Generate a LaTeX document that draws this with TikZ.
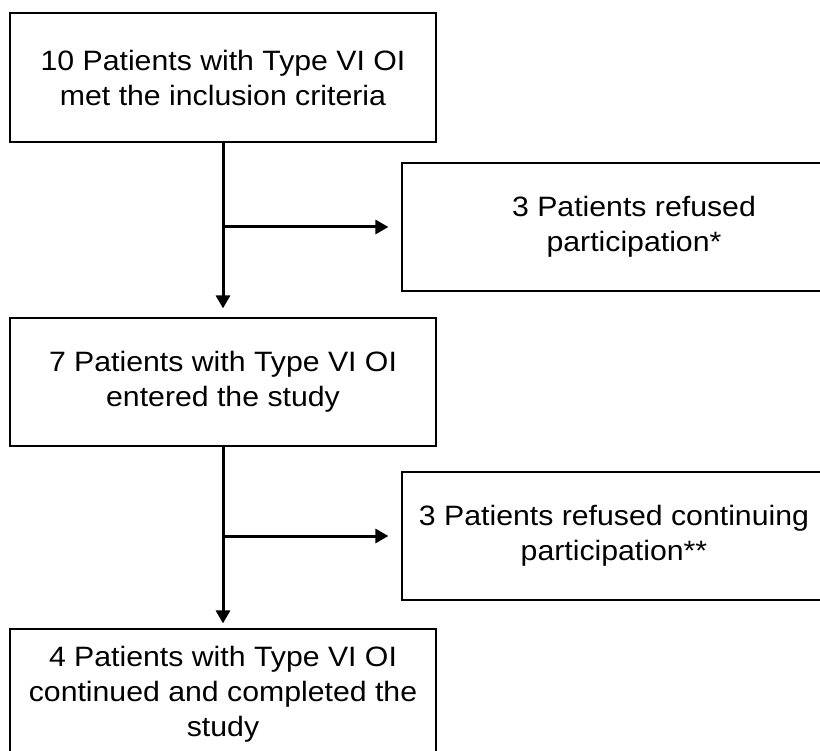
\documentclass[tikz,border=0pt]{standalone}
\usepackage{fontspec}
\setmainfont{Liberation Sans}[FakeStretch=1.08]
\usetikzlibrary{arrows.meta}
\begin{document}
\begin{tikzpicture}[x=1pt,y=-1pt,
  flowbox/.style={draw=black,line width=1.2pt,rectangle,inner sep=0pt,align=center,
    font=\fontsize{28}{35}\selectfont},
  arr/.style={line width=3pt,-{Triangle[length=13pt,width=14pt]}}]
\useasboundingbox (0,0) rectangle (820,751);
\clip (0,0) rectangle (820,751);
\node[flowbox,minimum width=426pt,minimum height=129pt] (b1) at (223,77.5)
  {10 Patients with Type VI OI\\met the inclusion criteria};
\node[flowbox,minimum width=464pt,minimum height=128pt] (b2) at (634,227)
  {3 Patients refused\\participation*};
\node[flowbox,minimum width=426pt,minimum height=128pt] (b3) at (223,382)
  {7 Patients with Type VI OI\\entered the study};
\node[flowbox,minimum width=424pt,minimum height=128pt] (b4) at (614,536)
  {3 Patients refused continuing\\participation**};
\node[flowbox,minimum width=426pt,minimum height=130pt] (b5) at (223,694)
  {4 Patients with Type VI OI\\continued and completed the\\study};
\coordinate (j1) at (223,227);
\coordinate (j2) at (223,536);
\draw[line width=3pt] (b1.south) -- (j1);
\draw[arr] (j1) -- ([yshift=9pt]b3.north);
\draw[arr] (j1) -- ([xshift=-13pt]b2.west);
\draw[line width=3pt] (b3.south) -- (j2);
\draw[arr] (j2) -- ([yshift=5pt]b5.north);
\draw[arr] (j2) -- ([xshift=-13pt]b4.west);
\end{tikzpicture}
\end{document}
